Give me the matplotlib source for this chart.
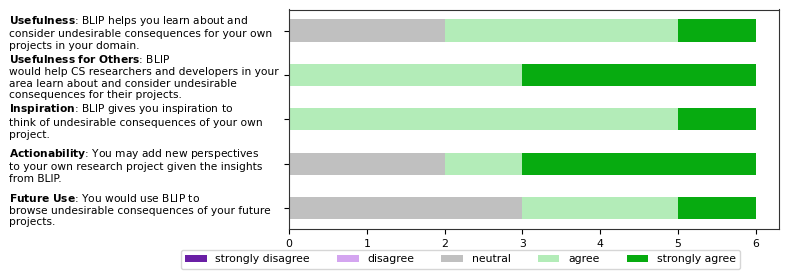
import numpy as np
import matplotlib
matplotlib.use('Agg')
from matplotlib import pyplot as plt

# survey answers, top row first
questions = [
    r'$\bf{Usefulness}$: BLIP helps you learn about and' + '\n'
    + 'consider undesirable consequences for your own\nprojects in your domain.',
    r'$\bf{Usefulness\ for\ Others}$: BLIP' + '\n'
    + 'would help CS researchers and developers in your\n'
    + 'area learn about and consider undesirable\nconsequences for their projects.',
    r'$\bf{Inspiration}$: BLIP gives you inspiration to' + '\n'
    + 'think of undesirable consequences of your own\nproject.',
    r'$\bf{Actionability}$: You may add new perspectives' + '\n'
    + 'to your own research project given the insights\nfrom BLIP.',
    r'$\bf{Future\ Use}$: You would use BLIP to' + '\n'
    + 'browse undesirable consequences of your future\nprojects.',
]
levels = ['strongly disagree', 'disagree', 'neutral', 'agree', 'strongly agree']
strongly_disagree = [0, 0, 0, 0, 0]
disagree = [0, 0, 0, 0, 0]
neutral = [2, 0, 0, 2, 3]
agree = [3, 3, 5, 1, 2]
strongly_agree = [1, 3, 1, 3, 1]

colors = ['#6a1fa5', '#d4a5f0', '#c0c0c0', '#b3ecb8', '#07ab10']
fs = 7.8

fig, ax = plt.subplots(figsize=(7.89, 2.79), dpi=100)
fig.subplots_adjust(left=289 / 789, right=779 / 789, top=1 - 9.5 / 279, bottom=1 - 229 / 279)

y = np.arange(len(questions))
left = np.zeros(len(questions))
for name, vals, c in zip(levels, [strongly_disagree, disagree, neutral, agree, strongly_agree], colors):
    vals = np.array(vals, dtype=float)
    ax.barh(y, vals, left=left, height=0.5, color=c, label=name)
    left += vals

ax.invert_yaxis()
ax.set_xlim(0, 6.3)
ax.set_xticks(range(0, 7))
ax.tick_params(labelsize=fs)
ax.set_yticks(y)
ax.set_yticklabels(questions, fontsize=7.65)
for lab in ax.get_yticklabels():
    lab.set_ha('left')
    lab.set_multialignment('left')
ax.yaxis.set_tick_params(pad=198)
for sp in ax.spines.values():
    sp.set_color('#333333')

fig.legend(loc='upper center', bbox_to_anchor=(460.4 / 789, 1 - 250 / 279), ncol=5,
           fontsize=fs, borderaxespad=0, columnspacing=2.5)

plt.savefig('out.png')
